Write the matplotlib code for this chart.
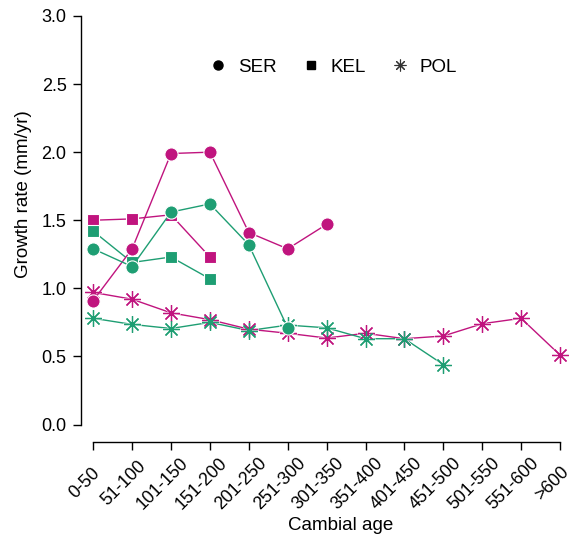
import matplotlib
matplotlib.use("Agg")
import matplotlib.pyplot as plt
from matplotlib.lines import Line2D
from matplotlib.transforms import ScaledTranslation

plt.rcParams['font.family'] = ['Liberation Sans', 'DejaVu Sans']

categories = ["0-50", "51-100", "101-150", "151-200", "201-250", "251-300",
              "301-350", "351-400", "401-450", "451-500", "501-550", "551-600", ">600"]

ser_magenta = [0.91, 1.29, 1.99, 2.00, 1.41, 1.29, 1.47]
ser_green = [1.29, 1.16, 1.56, 1.62, 1.32, 0.71]
kel_magenta = [1.50, 1.51, 1.54, 1.23]
kel_green = [1.42, 1.19, 1.23, 1.07]
pol_magenta = [0.97, 0.92, 0.82, 0.77, 0.70, 0.67, 0.635, 0.67, 0.63, 0.65, 0.74, 0.78, 0.51]
pol_green = [0.78, 0.735, 0.705, 0.75, 0.69, 0.73, 0.71, 0.63, 0.63, 0.44]

yticks = [0.0, 0.5, 1.0, 1.5, 2.0, 2.5, 3.0]
legend_labels = ["SER", "KEL", "POL"]

MAG = "#C0147E"
GRN = "#1E9E73"
FS = 13.5

W, H = 573, 542
fig = plt.figure(figsize=(W / 100, H / 100), dpi=100)
left, right, top, bottom = 80.5, 566, 16, 442
ax = fig.add_axes([left / W, 1 - bottom / H, (right - left) / W, (bottom - top) / H])

px_per_unit = (560 - 93.2) / 12
ax.set_xlim(-(93.2 - left) / px_per_unit, 12 + (right - 560) / px_per_unit)
y_unit = (424.5 - top) / 3.0
ax.set_ylim(-(bottom - 424.5) / y_unit, 3.0)

ast = (8, 2, 0)

def plot_series(vals, color, marker, ms, filled=True):
    x = list(range(len(vals)))
    if filled:
        ax.plot(x, vals, color=color, lw=1.0, marker=marker, ms=ms, mfc=color,
                mec="white", mew=0.8, clip_on=False, zorder=3)
    else:
        ax.plot(x, vals, color=color, lw=1.0, zorder=2, clip_on=False)
        ax.plot(x, vals, ls="none", marker=marker, ms=ms + 1, mec="white", mew=2.0,
                alpha=0.5, clip_on=False, zorder=2.5)
        ax.plot(x, vals, ls="none", marker=marker, ms=ms, mec=color, mew=0.9,
                clip_on=False, zorder=3)

plot_series(pol_magenta, MAG, ast, 12, filled=False)
plot_series(pol_green, GRN, ast, 12, filled=False)
plot_series(kel_magenta, MAG, "s", 8.5)
plot_series(kel_green, GRN, "s", 8.5)
plot_series(ser_magenta, MAG, "o", 9.5)
plot_series(ser_green, GRN, "o", 9.5)

for s in ["top", "right"]:
    ax.spines[s].set_visible(False)
ax.spines["bottom"].set_bounds(0, 12)
ax.spines["left"].set_bounds(0, 3)
ax.spines["bottom"].set_linewidth(1.0)
ax.spines["left"].set_linewidth(1.0)

ax.set_xticks(range(len(categories)))
ax.set_xticklabels(categories, rotation=45, ha="center", va="center",
                   rotation_mode="anchor", fontsize=12.8)
ax.set_yticks(yticks)
ax.set_yticklabels([f"{v:.1f}" for v in yticks], fontsize=13)
ax.tick_params(axis="y", direction="out", length=5.5, width=1.0, pad=4.5)
ax.tick_params(axis="x", direction="out", length=5.8, width=1.0, pad=24)
off = ScaledTranslation(-8 / 100, 0, fig.dpi_scale_trans)
for lab in ax.get_xticklabels():
    lab.set_transform(lab.get_transform() + off)

fig.text(341 / W, 1 - 526 / H, "Cambial age", fontsize=FS, ha="center", va="center")
fig.text(23.5 / W, 1 - 194 / H, "Growth rate (mm/yr)", fontsize=FS, ha="center",
         va="center", rotation=90)

handles = [
    Line2D([], [], ls="none", marker="o", color="black", ms=6.5),
    Line2D([], [], ls="none", marker="s", color="black", ms=5.5),
    Line2D([], [], ls="none", marker=ast, color="#333333", ms=8.5, mew=0.8),
]
fig.legend(handles, legend_labels, ncol=3, frameon=False, fontsize=FS,
           loc="center left", bbox_to_anchor=(209 / W, 1 - 67 / H),
           bbox_transform=fig.transFigure, borderpad=0, borderaxespad=0,
           handletextpad=0.55, columnspacing=1.32, handlelength=1.0)

fig.savefig("out.png", dpi=100)
